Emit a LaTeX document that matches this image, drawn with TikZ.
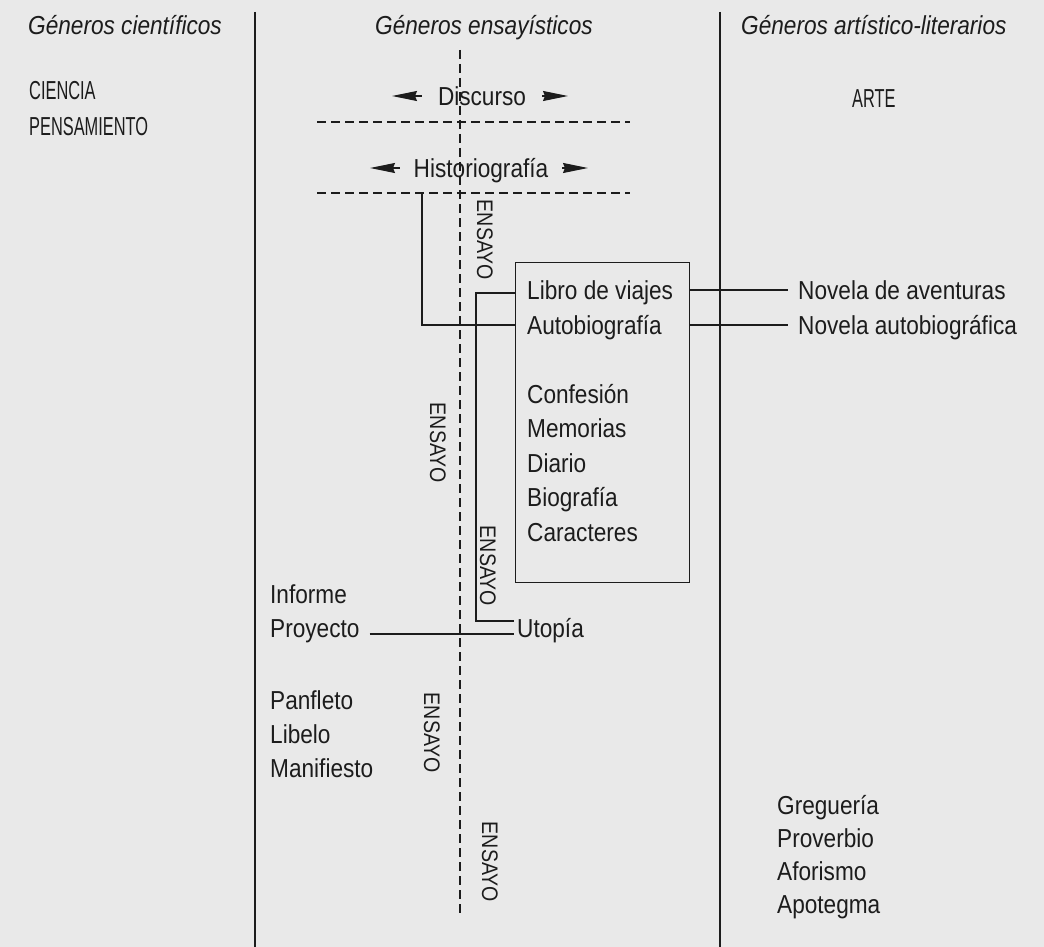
\documentclass[tikz,border=0pt]{standalone}
\usepackage{fontspec}
\setmainfont[FakeStretch=0.87]{Liberation Sans}
\newfontfamily\capsfont[FakeStretch=0.63]{Liberation Sans}
\usepackage{tikz}
\usetikzlibrary{arrows.meta}
\definecolor{paper}{RGB}{233, 233, 233}
\definecolor{ink}{RGB}{28, 28, 28}

\begin{document}
\begin{tikzpicture}[x=1pt, y=-1pt,
  txt/.style={anchor=west, inner sep=0pt, text height=19pt, text depth=0pt, text=ink, font=\fontsize{26}{30}\selectfont},
  hdr/.style={txt, font=\fontsize{26}{30}\selectfont\itshape},
  caps/.style={txt, font=\fontsize{26}{30}\selectfont\capsfont},
  ensayo/.style={rotate=-90, inner sep=0pt, text height=16pt, text depth=0pt, text=ink, font=\fontsize{22.5}{26}\selectfont},
  rule/.style={draw=ink, line width=1.3pt},
  dashline/.style={draw=ink, line width=1.1pt, dash pattern=on 9pt off 5pt},
  arr/.style={rule, -{Stealth[length=25pt, width=10pt, inset=2pt]}}]

  % Page
  \useasboundingbox (0,0) rectangle (1044,947);
  \fill[paper] (0,0) rectangle (1044,947);

  % Column rules
  \draw[rule] (255,12) -- (255,947);
  \draw[rule] (720,12) -- (720,947);
  \draw[dashline] (460,50) -- (460,915);

  % Headers
  \node[hdr] (hsci) at (28,25) {Géneros científicos};
  \node[hdr] (hens) at (375,25) {Géneros ensayísticos};
  \node[hdr] (hart) at (741,25) {Géneros artístico-literarios};

  % Poles
  \node[caps] (ciencia) at (29,90) {CIENCIA};
  \node[caps] (pensa) at (29,126) {PENSAMIENTO};
  \node[caps] (arte) at (852,98) {ARTE};

  % Discurso and Historiografia
  \node[txt, anchor=center, inner xsep=16pt] (disc) at (482,96) {Discurso};
  \coordinate (discL) at (392,96);
  \coordinate (discR) at (568,96);
  \draw[arr] (disc.west) -- (discL);
  \draw[arr] (disc.east) -- (discR);
  \draw[dashline] (317,122) -- (630,122);
  \node[txt, anchor=center, inner xsep=14pt] (hist) at (481,168) {Historiografía};
  \coordinate (histL) at (370,168);
  \coordinate (histR) at (588,168);
  \draw[arr] (hist.west) -- (histL);
  \draw[arr] (hist.east) -- (histR);
  \draw[dashline] (317,193) -- (630,193);

  % First essay bracket
  \draw[rule] (422,193) -- (422,325) -- (515,325);
  \node[ensayo] (ens1) at (485,240) {ENSAYO};

  % Personal genres box
  \node[rule, minimum width=174pt, minimum height=320pt, anchor=north west, inner sep=0pt] (box2) at (515,262) {};
  \node[txt] (libro) at (527,290) {Libro de viajes};
  \node[txt] (auto) at (527,325) {Autobiografía};
  \node[txt] (conf) at (527,394) {Confesión};
  \node[txt] (memo) at (527,428) {Memorias};
  \node[txt] (diario) at (527,463) {Diario};
  \node[txt] (bio) at (527,497) {Biografía};
  \node[txt] (carac) at (527,532) {Caracteres};

  % Novels
  \node[txt] (nov1) at (798,290) {Novela de aventuras};
  \node[txt] (nov2) at (798,325) {Novela autobiográfica};
  \draw[rule] (box2.east |- nov1.west) -- ([xshift=-10pt]nov1.west);
  \draw[rule] (box2.east |- nov2.west) -- ([xshift=-10pt]nov2.west);

  % Second essay bracket, down to Utopia
  \draw[rule] (515,293) -- (476,293) -- (476,621) -- (514,621);
  \node[ensayo] (ens2) at (438,443) {ENSAYO};
  \node[ensayo] (ens3) at (488,566) {ENSAYO};

  % Reports and pamphlets
  \node[txt] (inf) at (270,594) {Informe};
  \node[txt] (proy) at (270,628) {Proyecto};
  \node[txt] (utop) at (517,628) {Utopía};
  \draw[rule] ([xshift=10pt, yshift=-6pt]proy.east) -- ([xshift=-3pt, yshift=-6pt]utop.west);
  \node[txt] (panf) at (270,700) {Panfleto};
  \node[txt] (libelo) at (270,734) {Libelo};
  \node[txt] (manif) at (270,768) {Manifiesto};
  \node[ensayo] (ens4) at (432,733) {ENSAYO};
  \node[ensayo] (ens5) at (490,862) {ENSAYO};

  % Short forms
  \node[txt] (greg) at (777,805) {Greguería};
  \node[txt] (prov) at (777,838) {Proverbio};
  \node[txt] (afor) at (777,871) {Aforismo};
  \node[txt] (apot) at (777,904) {Apotegma};
\end{tikzpicture}
\end{document}
